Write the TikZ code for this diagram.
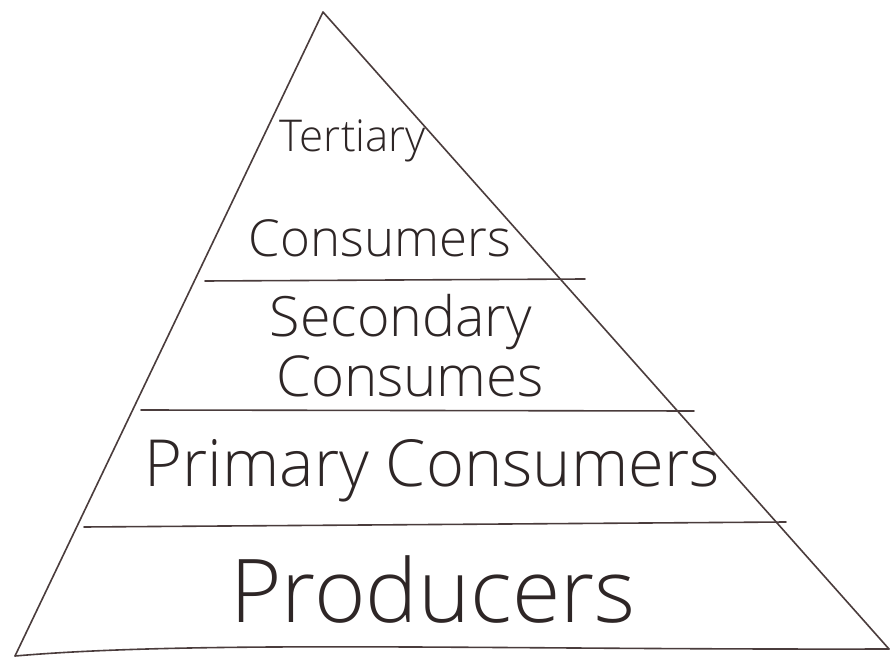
\documentclass[tikz,border=0pt]{standalone}
\usepackage{fontspec}
\setmainfont{Open Sans}
\usepackage{graphicx}
\definecolor{pencil}{HTML}{4A3C3C}
\definecolor{ink}{HTML}{2E2626}
\begin{document}
\begin{tikzpicture}[x=1pt,y=-1pt,
  edge/.style={draw=pencil,line width=1.6pt,line cap=round,line join=round},
  label/.style={text=ink,inner sep=0pt,anchor=center}]
\useasboundingbox (0,0) rectangle (895,660);
\fill[white] (0,0) rectangle (895,660);
% corners
\coordinate (apex) at (323,12);
\coordinate (bl) at (15,656);
\coordinate (br) at (889,649);
\draw[edge] (bl) -- (apex) -- (br);
\draw[edge] (bl) .. controls (200,640) and (500,650) .. (br);
% tier lines
\coordinate (l1a) at (205,281); \coordinate (l1b) at (585,279);
\coordinate (l2a) at (141,410); \coordinate (l2b) at (694,411);
\coordinate (l3a) at (84,527); \coordinate (l3b) at (786,522);
\draw[edge] (l1a) -- (l1b);
\draw[edge] (l2a) -- (l2b);
\draw[edge] (l3a) -- (l3b);
% labels
\node[label] (t1) at (353,141) {\resizebox{146pt}{!}{\fontspec{Open Sans Light}Tertiary}};
\node[label] (t2) at (380,238) {\resizebox{262pt}{!}{\fontspec{Open Sans Light}Consumers}};
\node[label] (s1) at (401,322) {\resizebox{262pt}{!}{\fontspec{Open Sans Light}Secondary}};
\node[label] (s2) at (410,376) {\resizebox{268pt}{!}{\fontspec{Open Sans Light}Consumes}};
\node[label] (p1) at (432,471) {\resizebox{575pt}{!}{\fontspec{Open Sans Light}Primary Consumers}};
\node[label] (p2) at (433,590) {\resizebox{405pt}{!}{\fontspec{Open Sans Light}Producers}};
\end{tikzpicture}
\end{document}
